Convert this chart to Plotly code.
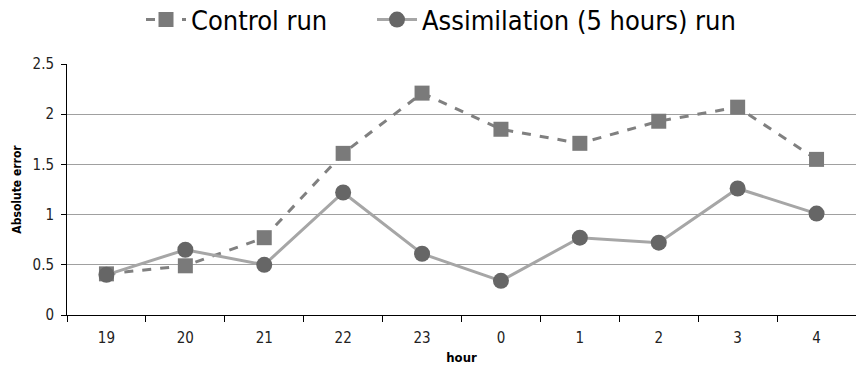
import plotly.graph_objects as go

hours = ["19", "20", "21", "22", "23", "0", "1", "2", "3", "4"]
control_run = [0.41, 0.49, 0.77, 1.61, 2.21, 1.85, 1.71, 1.93, 2.07, 1.55]
assim_run = [0.40, 0.65, 0.50, 1.22, 0.61, 0.34, 0.77, 0.72, 1.26, 1.01]

font_fam = "DejaVu Sans Condensed, Liberation Sans, sans-serif"

fig = go.Figure()
fig.add_trace(go.Scatter(
    x=hours, y=control_run, name="Control run", mode="lines+markers",
    line=dict(color="#808080", width=3, dash="dash"),
    marker=dict(symbol="square", size=15, color="#7a7a7a"),
    legend="legend",
))
fig.add_trace(go.Scatter(
    x=hours, y=assim_run, name="Assimilation (5 hours) run", mode="lines+markers",
    line=dict(color="#a6a6a6", width=3),
    marker=dict(symbol="circle", size=16, color="#666666"),
    legend="legend2",
))

leg_common = dict(orientation="h", xanchor="left", y=1 - 20 / 373, yanchor="middle",
                  xref="container", yref="container",
                  font=dict(size=27, color="#000000"), itemwidth=40,
                  bgcolor="rgba(0,0,0,0)")

fig.update_layout(
    width=856, height=373,
    margin=dict(l=67, r=0, t=64, b=58),
    paper_bgcolor="white", plot_bgcolor="white",
    font=dict(family=font_fam, color="#000000"),
    showlegend=True,
    legend=dict(x=141 / 856, **leg_common),
    legend2=dict(x=372 / 856, **leg_common),
    xaxis=dict(
        type="category", showline=True, linecolor="#000000", linewidth=1,
        ticks="outside", tickson="boundaries", ticklen=6, tickcolor="#000000",
        showgrid=False, tickfont=dict(size=15, color="#222222"),
        ticklabelstandoff=9,
        title=dict(text="<b>hour</b>", font=dict(size=13), standoff=6),
        range=[-0.5, 9.5],
    ),
    yaxis=dict(
        range=[0, 2.5], dtick=0.5, showline=True, linecolor="#000000", linewidth=1,
        ticks="outside", ticklen=5, tickcolor="#000000", tickformat="~g",
        showgrid=True, gridcolor="#a0a0a0", gridwidth=1, zeroline=False,
        tickfont=dict(size=15, color="#222222"), ticklabelstandoff=4,
        title=dict(text="<b>Absolute error</b>", font=dict(size=12), standoff=8),
    ),
)

fig.write_html("out.html")
